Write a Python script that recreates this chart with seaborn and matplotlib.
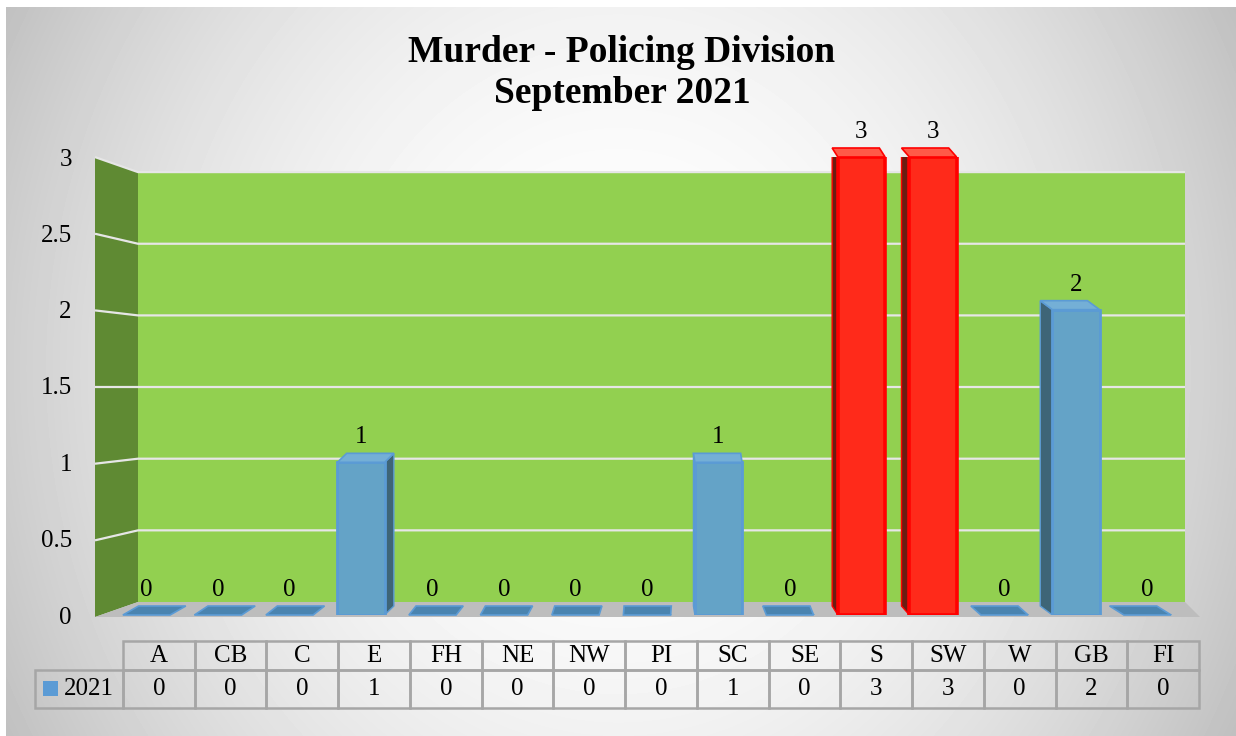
import numpy as np
import pandas as pd
import matplotlib
matplotlib.use("Agg")
import matplotlib.pyplot as plt
from matplotlib.patches import Polygon, Rectangle
import seaborn as sns

# ---------------- data ----------------
categories = ["A", "CB", "C", "E", "FH", "NE", "NW", "PI", "SC", "SE", "S", "SW", "W", "GB", "FI"]
values_2021 = [0, 0, 0, 1, 0, 0, 0, 0, 1, 0, 3, 3, 0, 2, 0]
series_name = "2021"
title_lines = ["Murder - Policing Division", "September 2021"]
y_ticks = [0, 0.5, 1, 1.5, 2, 2.5, 3]
y_tick_labels = ["0", "0.5", "1", "1.5", "2", "2.5", "3"]

# ---------------- style ----------------
BLUE_FACE = "#64a3c7"
BLUE_EDGE = "#5b9bd5"
BLUE_TILE = "#4a84b0"
BLUE_TOP = "#74afd6"
BLUE_SIDE = "#3e6577"
RED_FACE = "#ff2a1a"
RED_EDGE = "#ff0000"
RED_TOP = "#ff5a48"
RED_SIDE = "#6b1d12"

sns.set_theme(style="white")
plt.rcParams["font.family"] = ["Liberation Serif", "DejaVu Serif"]
FS = 18

W, H = 1236, 736
fig = plt.figure(figsize=(W / 100, H / 100), dpi=100)

# ---------------- background + 3D walls (decoration, pixel coords) ----------------
bg = fig.add_axes([0, 0, 1, 1])
bg.set_xlim(0, W)
bg.set_ylim(H, 0)
bg.axis("off")
yy, xx = np.mgrid[0:H, 0:W]
r2 = ((xx - 618) / 640) ** 2 + ((yy - 368) / 720) ** 2
shade = np.clip(1 - 0.21 * r2, 0, 1)
shade[(xx < 6) | (yy < 7)] = 1.0
bg.imshow(shade, cmap="gray", vmin=0, vmax=1, extent=[0, W, H, 0], aspect="auto", zorder=0)

ymax = y_ticks[-1]
def yf(v):  # front (left wall edge) scale
    return 617 - v * 153.3
def yb(v):  # back wall scale
    return 602 - v * 143.3

bg.add_patch(Polygon([(138, yb(ymax)), (1185, yb(ymax)), (1185, yb(0)), (138, yb(0))],
                     closed=True, fc="#92d050", ec="none", zorder=1))
bg.add_patch(Polygon([(95, yf(ymax)), (138, yb(ymax)), (138, yb(0)), (95, yf(0))],
                     closed=True, fc="#5f8a33", ec="none", zorder=1))
bg.add_patch(Polygon([(95, yf(0)), (138, yb(0)), (1185, yb(0)), (1200, yf(0))],
                     closed=True, fc="#bdbdbd", ec="none", zorder=1))
for v in y_ticks[1:]:
    bg.plot([95, 138, 1185], [yf(v), yb(v), yb(v)], color="#e6e6e6", lw=1.6, zorder=2,
            solid_capstyle="butt")

# legend key in the data table
bg.add_patch(Rectangle((43, 681), 15, 15, fc=BLUE_EDGE, ec="none", zorder=3))

# ---------------- title ----------------
fig.text(622 / W, 1 - 73 / H, "\n".join(title_lines), ha="center", va="center",
         fontsize=27, fontweight="bold", linespacing=1.22, color="black")

# ---------------- bars ----------------
ax = fig.add_axes([110.75 / W, (H - 615) / H, 1072.5 / W, (615 - 157) / H])
df = pd.DataFrame({"Division": categories, "Murders": values_2021})
vmax = max(values_2021)
is_max = [v == vmax for v in values_2021]
colors = [RED_FACE if m else BLUE_FACE for m in is_max]
sns.barplot(data=df, x="Division", y="Murders", hue="Division", palette=colors,
            legend=False, width=0.66, saturation=1, linewidth=2, ax=ax, zorder=3)
ax.set_xlim(-0.5, len(categories) - 0.5)
ax.set_ylim(0, ymax)
ax.patch.set_alpha(0)
for s in ax.spines.values():
    s.set_visible(False)
ax.set_xticks([])
ax.set_xlabel("")
ax.set_ylabel("")
ax.set_yticks(y_ticks, y_tick_labels)
ax.tick_params(axis="y", length=0, pad=28, labelsize=FS, labelcolor="black")
ax.grid(False)

sx = 1072.5 / len(categories)
sy = (615 - 157) / ymax
VP = 670
depth = 9 / sy
for bar, v, m in zip(ax.patches, values_2021, is_max):
    bar.set_edgecolor(RED_EDGE if m else BLUE_EDGE)
    if m:
        bar.set_linewidth(2.6)
    x0, w, h = bar.get_x(), bar.get_width(), bar.get_height()
    cx_px = ax.transData.transform((x0 + w / 2, 0))[0]
    shift = (VP - cx_px) * 0.03 / sx
    if h > 0:
        top_c = RED_TOP if m else BLUE_TOP
        side_c = RED_SIDE if m else BLUE_SIDE
        if shift > 0:
            side = [(x0 + w, 0), (x0 + w + shift, depth), (x0 + w + shift, h + depth), (x0 + w, h)]
        else:
            side = [(x0, 0), (x0 + shift, depth), (x0 + shift, h + depth), (x0, h)]
        ax.add_patch(Polygon(side, closed=True, fc=side_c, ec=bar.get_edgecolor(), lw=1, zorder=2.5))
    else:
        top_c = BLUE_TILE
    topf = [(x0, h), (x0 + w, h), (x0 + w + shift, h + depth), (x0 + shift, h + depth)]
    ax.add_patch(Polygon(topf, closed=True, fc=top_c, ec=RED_EDGE if m else BLUE_EDGE,
                         lw=1.2, zorder=3.5, clip_on=False))

for cont in ax.containers:
    ax.bar_label(cont, fmt="{:g}", padding=10, fontsize=FS, color="black")

# ---------------- data table ----------------
tax = fig.add_axes([35 / W, (H - 708) / H, (1199 - 35) / W, (708 - 641) / H])
tax.axis("off")
cell_text = [[""] + categories, [series_name] + [f"{v:g}" for v in values_2021]]
col_w = [88] + [(1199 - 123) / len(categories)] * len(categories)
col_w = [c / sum(col_w) for c in col_w]
tab = tax.table(cellText=cell_text, colWidths=col_w, cellLoc="center", bbox=[0, 0, 1, 1])
tab.auto_set_font_size(False)
tab.set_fontsize(FS)
for (r, c), cell in tab.get_celld().items():
    cell.set_edgecolor("#a6a6a6")
    cell.set_linewidth(1.8)
    cell.set_facecolor("none")
    cell.set_height(29 if r == 0 else 37)
    cell.get_text().set_color("black")
tab[0, 0].set_linewidth(0)
tab[1, 0].get_text().set_horizontalalignment("right")

fig.savefig("out.png", dpi=100)
